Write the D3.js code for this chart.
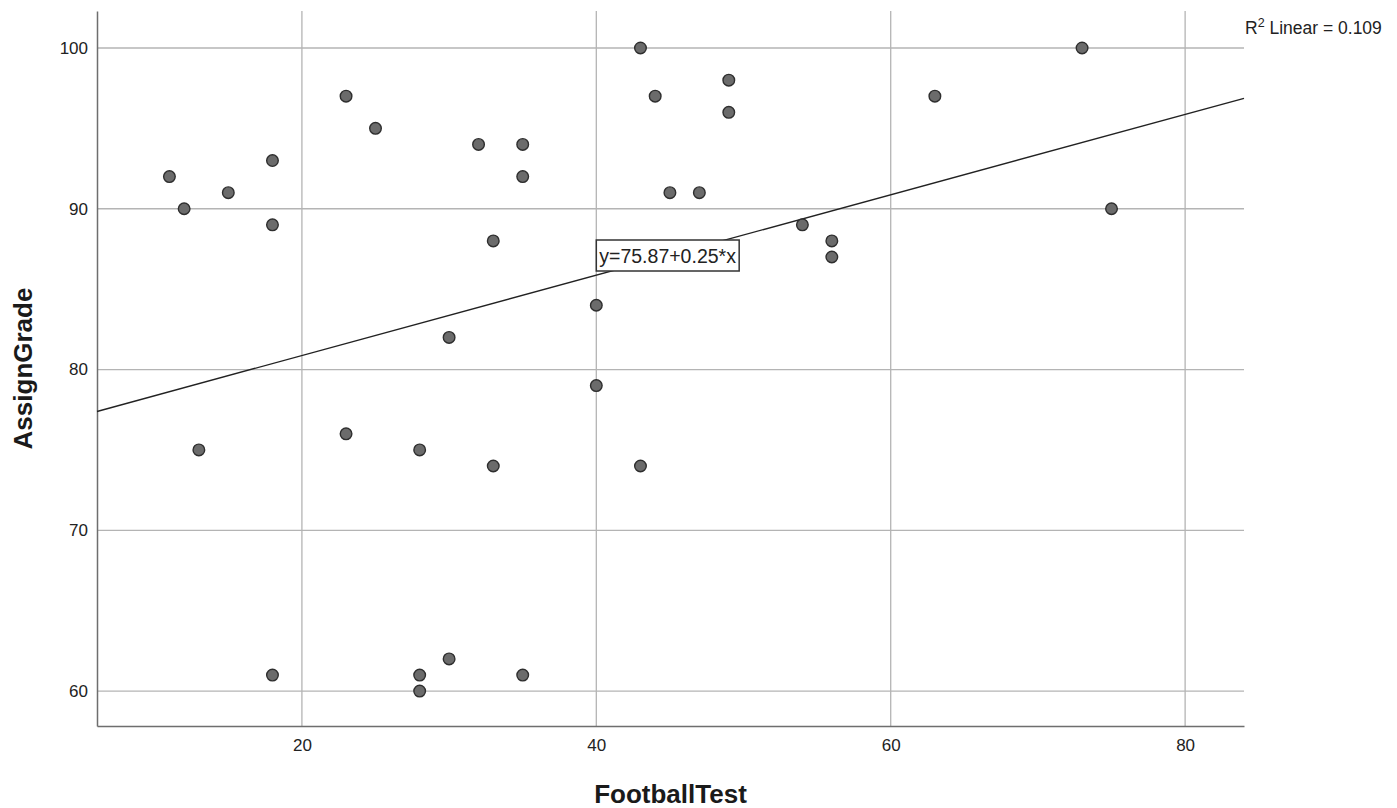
<!DOCTYPE html>
<html>
<head>
<meta charset="utf-8">
<script src="https://cdn.jsdelivr.net/npm/d3@7"></script>
<style>
  body { margin: 0; background: #fff; }
  text { font-family: "Liberation Sans", Arial, sans-serif; }
</style>
</head>
<body>
<div id="chart"></div>
<script>
// FootballTest vs AssignGrade
const footballTest = [11, 12, 13, 15, 18, 18, 18, 23, 23, 25, 28, 28, 28, 30, 30, 32, 33, 33,
  35, 35, 35, 40, 40, 43, 43, 44, 45, 47, 49, 49, 54, 56, 56, 63, 73, 75];
const assignGrade = [92, 90, 75, 91, 93, 89, 61, 97, 76, 95, 75, 61, 60, 82, 62, 94, 88, 74,
  94, 92, 61, 84, 79, 100, 74, 97, 91, 91, 98, 96, 89, 88, 87, 97, 100, 90];
const xTicks = [20, 40, 60, 80];
const yTicks = [60, 70, 80, 90, 100];
const fitIntercept = 75.87;
const fitSlope = 0.25;
const rSquared = '0.109';

const width = 1397, height = 808;
const margin = { left: 97, right: 153, top: 11, bottom: 82 };

const svg = d3.select('#chart').append('svg')
  .attr('width', width)
  .attr('height', height);

const x = d3.scaleLinear().domain([6.08, 84.0]).range([margin.left, width - margin.right]);
const y = d3.scaleLinear().domain([57.83, 102.3]).range([height - margin.bottom, margin.top]);

const plotLeft = margin.left, plotRight = width - margin.right;
const plotTop = margin.top, plotBottom = height - margin.bottom;

// grid lines
svg.append('g')
  .selectAll('line')
  .data(yTicks)
  .enter().append('line')
  .attr('x1', plotLeft).attr('x2', plotRight)
  .attr('y1', d => y(d)).attr('y2', d => y(d))
  .attr('stroke', '#b4b4b4').attr('stroke-width', 1.3);

svg.append('g')
  .selectAll('line')
  .data(xTicks)
  .enter().append('line')
  .attr('x1', d => x(d)).attr('x2', d => x(d))
  .attr('y1', plotTop).attr('y2', plotBottom)
  .attr('stroke', '#b4b4b4').attr('stroke-width', 1.3);

// axes
const xAxis = svg.append('g')
  .attr('transform', `translate(0,${plotBottom})`)
  .call(d3.axisBottom(x).tickValues(xTicks).tickSize(0).tickPadding(13));
xAxis.select('.domain').attr('stroke', '#6e6e6e').attr('stroke-width', 1.5);
xAxis.selectAll('text').attr('font-size', 17).attr('fill', '#222')
  .style('font-family', '"Liberation Sans", Arial, sans-serif');

const yAxis = svg.append('g')
  .attr('transform', `translate(${plotLeft},0)`)
  .call(d3.axisLeft(y).tickValues(yTicks).tickSize(0).tickPadding(9));
yAxis.select('.domain').attr('stroke', '#6e6e6e').attr('stroke-width', 1.5);
yAxis.selectAll('text').attr('font-size', 17).attr('fill', '#222')
  .style('font-family', '"Liberation Sans", Arial, sans-serif');

// axis titles
svg.append('text')
  .attr('x', (plotLeft + plotRight) / 2)
  .attr('y', 803)
  .attr('text-anchor', 'middle')
  .attr('font-size', 26)
  .attr('font-weight', 'bold')
  .attr('fill', '#1a1a1a')
  .text('FootballTest');

svg.append('text')
  .attr('transform', `translate(32,${(plotTop + plotBottom) / 2}) rotate(-90)`)
  .attr('text-anchor', 'middle')
  .attr('font-size', 26)
  .attr('font-weight', 'bold')
  .attr('fill', '#1a1a1a')
  .text('AssignGrade');

// fit line
const xDom = x.domain();
svg.append('line')
  .attr('x1', x(xDom[0])).attr('y1', y(fitIntercept + fitSlope * xDom[0]))
  .attr('x2', x(xDom[1])).attr('y2', y(fitIntercept + fitSlope * xDom[1]))
  .attr('stroke', '#222').attr('stroke-width', 1.4);

// points
svg.append('g')
  .selectAll('circle')
  .data(footballTest.map((v, i) => ({ fx: v, ag: assignGrade[i] })))
  .enter().append('circle')
  .attr('cx', d => x(d.fx))
  .attr('cy', d => y(d.ag))
  .attr('r', 5.8)
  .attr('fill', '#6b6b6b')
  .attr('stroke', '#2e2e2e')
  .attr('stroke-width', 1.4);

// equation label
const eqX = x(40), eqY = 256;
const eqText = svg.append('text')
  .attr('x', eqX + 3)
  .attr('y', eqY + 7)
  .attr('font-size', 19.5)
  .attr('fill', '#222')
  .text(`y=${fitIntercept}+${fitSlope}*x`);
const bb = eqText.node().getBBox();
svg.insert('rect', () => eqText.node())
  .attr('x', eqX)
  .attr('y', 240)
  .attr('width', bb.width + 6)
  .attr('height', 31)
  .attr('fill', '#fff')
  .attr('stroke', '#333')
  .attr('stroke-width', 1.5);

// R squared label
const r2 = svg.append('text')
  .attr('x', 1245)
  .attr('y', 34)
  .attr('font-size', 17.5)
  .attr('fill', '#222');
r2.append('tspan').text('R');
r2.append('tspan').attr('dy', -7).attr('font-size', 12.5).text('2');
r2.append('tspan').attr('dy', 7).text(` Linear = ${rSquared}`);
</script>
</body>
</html>
